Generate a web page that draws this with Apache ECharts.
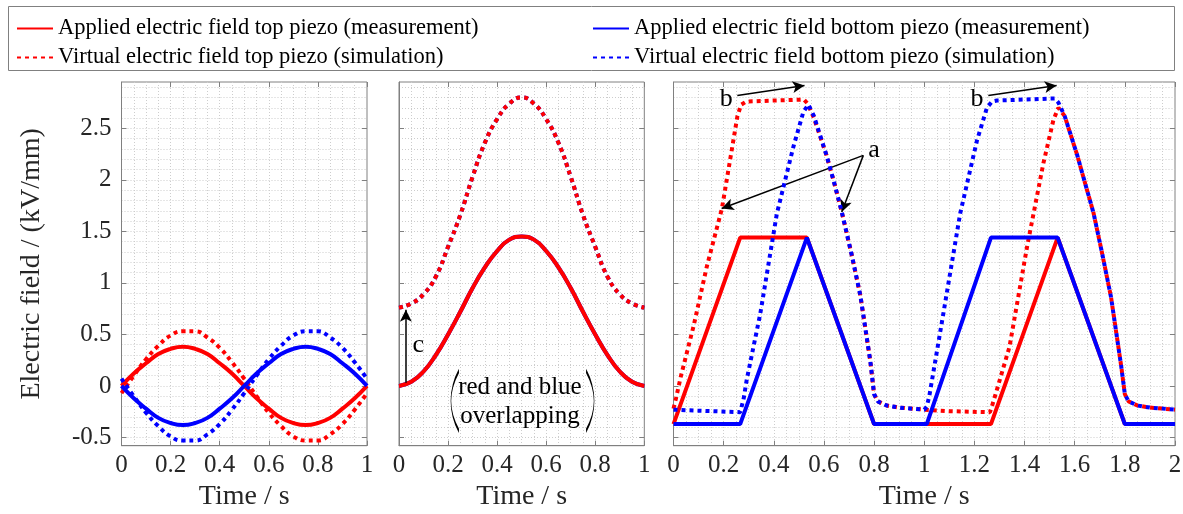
<!DOCTYPE html>
<html lang="en">
<head>
<meta charset="UTF-8">
<title>Electric field</title>
<style>
  html, body { margin: 0; padding: 0; background: #fff; }
  #main { width: 1183px; height: 514px; }
</style>
</head>
<body>
<div id="main"></div>
<script src="https://cdn.jsdelivr.net/npm/echarts@6/dist/echarts.min.js"></script>
<script>
var FONT = 'Liberation Serif';
var RED = '#ff0000', BLUE = '#0000ff', AXIS = '#808080', TXT = '#262626';

var names = [
  'Applied electric field top piezo (measurement)',
  'Virtual electric field top piezo (simulation)',
  'Applied electric field bottom piezo (measurement)',
  'Virtual electric field bottom piezo (simulation)'
];

// tick labels
var xTicks1 = [0, 0.2, 0.4, 0.6, 0.8, 1];
var xTicks3 = [0, 0.2, 0.4, 0.6, 0.8, 1, 1.2, 1.4, 1.6, 1.8, 2];
var yTicks = [-0.5, 0, 0.5, 1, 1.5, 2, 2.5];
var yMin = -0.58, yMax = 2.95;

// panel 1 + 2 share one time base (s)
var t1 = [0, 0.05, 0.1, 0.15, 0.2, 0.25, 0.3, 0.35, 0.4, 0.45, 0.5,
          0.55, 0.6, 0.65, 0.7, 0.75, 0.8, 0.85, 0.9, 0.95, 1];

// panel 1: sine excitation
var p1TopMeas = [0, 0.12, 0.22, 0.31, 0.36, 0.38, 0.36, 0.31, 0.22, 0.12, 0,
                 -0.12, -0.22, -0.31, -0.36, -0.38, -0.36, -0.31, -0.22, -0.12, 0];
var p1TopSim  = [-0.07, 0.1, 0.26, 0.39, 0.49, 0.53, 0.53, 0.47, 0.37, 0.23, 0.07,
                 -0.1, -0.26, -0.39, -0.49, -0.53, -0.53, -0.47, -0.37, -0.23, -0.07];
var p1BotMeas = [0, -0.12, -0.22, -0.31, -0.36, -0.38, -0.36, -0.31, -0.22, -0.12, 0,
                 0.12, 0.22, 0.31, 0.36, 0.38, 0.36, 0.31, 0.22, 0.12, 0];
var p1BotSim  = [0.07, -0.1, -0.26, -0.39, -0.49, -0.53, -0.53, -0.47, -0.37, -0.23, -0.07,
                 0.1, 0.26, 0.39, 0.49, 0.53, 0.53, 0.47, 0.37, 0.23, 0.07];

// panel 2: unipolar (top and bottom identical)
var p2Meas = [0, 0.04, 0.14, 0.3, 0.5, 0.72, 0.95, 1.15, 1.31, 1.42, 1.45,
              1.42, 1.31, 1.15, 0.95, 0.72, 0.5, 0.3, 0.14, 0.04, 0];
var p2Sim  = [0.76, 0.8, 0.89, 1.06, 1.35, 1.66, 2.03, 2.36, 2.59, 2.74, 2.8,
              2.74, 2.59, 2.36, 2.03, 1.66, 1.35, 1.06, 0.89, 0.8, 0.76];

// panel 3: trapezoid sequence, [time, field]
var p3TopMeas = [[0, -0.37], [0.266, 1.44], [0.532, 1.44], [0.8, -0.37], [1.266, -0.37],
                 [1.532, 1.44], [1.8, -0.37], [2, -0.37]];
var p3BotMeas = [[0, -0.37], [0.266, -0.37], [0.532, 1.44], [0.8, -0.37], [1.01, -0.37],
                 [1.266, 1.44], [1.532, 1.44], [1.8, -0.37], [2, -0.37]];
var p3TopSim = [[0, -0.22], [0.01, -0.12], [0.03, 0.1], [0.08, 0.58], [0.133, 1.16], [0.193, 1.72],
                [0.233, 2.3], [0.255, 2.62], [0.27, 2.73], [0.29, 2.76], [0.4, 2.77], [0.52, 2.78],
                [0.535, 2.74], [0.56, 2.6], [0.61, 2.24], [0.64, 1.98], [0.67, 1.7], [0.71, 1.28],
                [0.745, 0.88], [0.785, 0.24], [0.8, -0.08], [0.815, -0.15], [0.85, -0.19], [0.9, -0.21],
                [1, -0.23], [1.1, -0.245], [1.262, -0.255], [1.276, -0.15], [1.34, 0.38], [1.41, 1.35],
                [1.475, 2.16], [1.515, 2.58], [1.535, 2.7], [1.56, 2.62], [1.61, 2.24], [1.64, 1.98],
                [1.675, 1.68], [1.71, 1.28], [1.745, 0.86], [1.785, 0.2], [1.8, -0.08], [1.815, -0.15],
                [1.85, -0.19], [1.9, -0.21], [2, -0.23]];
var p3BotSim = [[0, -0.23], [0.1, -0.24], [0.266, -0.255], [0.28, -0.12], [0.292, 0.06], [0.346, 0.7],
                [0.412, 1.67], [0.478, 2.32], [0.518, 2.66], [0.538, 2.73], [0.56, 2.62], [0.61, 2.24],
                [0.64, 1.98], [0.67, 1.7], [0.71, 1.28], [0.745, 0.88], [0.785, 0.24], [0.8, -0.08],
                [0.815, -0.15], [0.85, -0.19], [0.9, -0.21], [1, -0.23], [1.01, -0.2], [1.02, -0.1],
                [1.076, 0.7], [1.143, 1.67], [1.21, 2.38], [1.25, 2.7], [1.27, 2.76], [1.29, 2.77],
                [1.4, 2.78], [1.52, 2.79], [1.535, 2.75], [1.56, 2.62], [1.61, 2.24], [1.64, 1.98],
                [1.675, 1.68], [1.71, 1.28], [1.745, 0.86], [1.785, 0.2], [1.8, -0.08], [1.815, -0.15],
                [1.85, -0.19], [1.9, -0.21], [2, -0.23]];

function pairs(xs, ys) {
  return xs.map(function (x, i) { return [x, ys[i]]; });
}
// grid line positions (axis decoration only)
function steps(a, b, s) {
  var out = [];
  for (var v = a; v <= b + 1e-9; v += s) out.push(Math.round(v * 1000) / 1000);
  return out;
}

var myChart = echarts.init(document.getElementById('main'));

var grids = [
  {left: 121.5, top: 82, width: 245.5, height: 363.7},
  {left: 399, top: 82, width: 245.3, height: 363.7},
  {left: 673.5, top: 82, width: 501.5, height: 363.7}
];
grids.forEach(function (g) {
  g.show = true; g.borderColor = AXIS; g.borderWidth = 1;
  g.backgroundColor = 'transparent'; g.containLabel = false; g.outerBoundsMode = 'none';
});

var gridLine = {show: true, lineStyle: {color: '#cdcdcd', width: 1, type: [1, 2]}};

function mainX(g, max, ticks) {
  return {
    type: 'value', gridIndex: g, min: 0, max: max, position: 'bottom',
    axisLine: {show: true, onZero: false, lineStyle: {color: AXIS, width: 1}},
    axisTick: {show: true, inside: true, length: 5, customValues: ticks, lineStyle: {color: AXIS}},
    axisLabel: {show: true, customValues: ticks, margin: 7, color: TXT, fontFamily: FONT, fontSize: 25},
    splitLine: {show: false},
    name: 'Time / s', nameLocation: 'middle', nameGap: 36,
    nameTextStyle: {color: TXT, fontFamily: FONT, fontSize: 28}
  };
}
function topX(g, max, ticks) {
  return {
    type: 'value', gridIndex: g, min: 0, max: max, position: 'top',
    axisLine: {show: false, onZero: false},
    axisTick: {show: true, inside: true, length: 5, customValues: ticks, lineStyle: {color: AXIS}},
    axisLabel: {show: false}, splitLine: {show: false}
  };
}
function lineX(g, max) {
  return {
    type: 'value', gridIndex: g, min: 0, max: max,
    axisLine: {show: false}, axisLabel: {show: false},
    axisTick: {show: false, customValues: steps(0.05, max - 0.05, 0.05)},
    splitLine: gridLine
  };
}
function mainY(g) {
  var ax = {
    type: 'value', gridIndex: g, min: yMin, max: yMax, position: 'left',
    axisLine: {show: true, onZero: false, lineStyle: {color: AXIS, width: 1}},
    axisTick: {show: true, inside: true, length: 5, customValues: yTicks, lineStyle: {color: AXIS}},
    axisLabel: {show: g === 0, customValues: yTicks, margin: 10, color: TXT, fontFamily: FONT, fontSize: 25},
    splitLine: {show: false}
  };
  if (g === 0) {
    ax.name = 'Electric field / (kV/mm)';
    ax.nameLocation = 'middle';
    ax.nameRotate = 90;
    ax.nameGap = 76;
    ax.nameTextStyle = {color: TXT, fontFamily: FONT, fontSize: 28};
  }
  return ax;
}
function rightY(g) {
  return {
    type: 'value', gridIndex: g, min: yMin, max: yMax, position: 'right',
    axisLine: {show: false, onZero: false},
    axisTick: {show: true, inside: true, length: 5, customValues: yTicks, lineStyle: {color: AXIS}},
    axisLabel: {show: false}, splitLine: {show: false}
  };
}
function lineY(g) {
  return {
    type: 'value', gridIndex: g, min: yMin, max: yMax,
    axisLine: {show: false}, axisLabel: {show: false},
    axisTick: {show: false, customValues: steps(-0.5, 2.9, 0.1)},
    splitLine: gridLine
  };
}

function line(nameIdx, g, data, dotted, smooth, z) {
  var color = nameIdx < 2 ? RED : BLUE;
  return {
    name: names[nameIdx], type: 'line', xAxisIndex: 3 * g, yAxisIndex: 3 * g,
    data: data, symbol: 'none', showSymbol: false, smooth: smooth, silent: true,
    z: z, itemStyle: {color: color},
    lineStyle: {color: color, width: 4, type: dotted ? [4, 4] : 'solid', cap: 'butt'}
  };
}

var arrowStyle = {
  silent: true, symbol: ['none', 'arrow'], symbolSize: [9, 12], animation: false,
  lineStyle: {color: '#000', width: 1.5, type: 'solid'}, label: {show: false}
};
function note(coord, text, size) {
  return {
    coord: coord, symbol: 'circle', symbolSize: 1, itemStyle: {color: 'rgba(0,0,0,0)'},
    label: {show: true, position: 'inside', formatter: text, color: '#000',
            fontFamily: FONT, fontSize: size || 26, lineHeight: 29}
  };
}
function paren(coord, path) {
  return {
    coord: coord, symbol: path, symbolSize: [8, 60],
    itemStyle: {color: 'rgba(0,0,0,0)', borderColor: '#000', borderWidth: 1.6},
    label: {show: false}
  };
}

var series = [
  line(0, 0, pairs(t1, p1TopMeas), false, true, 2),
  line(1, 0, pairs(t1, p1TopSim), true, true, 3),
  line(2, 0, pairs(t1, p1BotMeas), false, true, 4),
  line(3, 0, pairs(t1, p1BotSim), true, true, 5),

  line(2, 1, pairs(t1, p2Meas), false, true, 2),
  line(3, 1, pairs(t1, p2Sim), true, true, 3),
  line(0, 1, pairs(t1, p2Meas), false, true, 4),
  line(1, 1, pairs(t1, p2Sim), true, true, 5),

  line(0, 2, p3TopMeas, false, false, 2),
  line(1, 2, p3TopSim, true, false, 3),
  line(2, 2, p3BotMeas, false, false, 4),
  line(3, 2, p3BotSim, true, false, 5)
];

// annotations in data coordinates
series[7].markLine = Object.assign({data: [
  [{coord: [0.028, 0.03]}, {coord: [0.028, 0.74]}]
]}, arrowStyle);
series[7].markPoint = {silent: true, animation: false, data: [
  note([0.079, 0.397], 'c'),
  note([0.493, -0.155], 'red and blue\noverlapping', 25),
  paren([0.228, -0.145], 'path://M10,0 Q0,50 10,100'),
  paren([0.779, -0.145], 'path://M0,0 Q10,50 0,100')
]};
series[11].markLine = Object.assign({data: [
  [{coord: [0.2545, 2.82]}, {coord: [0.5225, 2.917]}],
  [{coord: [1.2555, 2.82]}, {coord: [1.528, 2.917]}],
  [{coord: [0.757, 2.238]}, {coord: [0.192, 1.722]}],
  [{coord: [0.757, 2.238]}, {coord: [0.671, 1.689]}]
]}, arrowStyle);
series[11].markPoint = {silent: true, animation: false, data: [
  note([0.2106, 2.788], 'b'),
  note([1.2104, 2.788], 'b'),
  note([0.7996, 2.287], 'a')
]};

var legendBase = {
  orient: 'vertical', top: 17, padding: 0, itemGap: 6, itemWidth: 36, itemHeight: 14,
  itemStyle: {opacity: 0, borderWidth: 0},
  textStyle: {color: '#000', fontFamily: FONT, fontSize: 22.5, lineHeight: 22},
  selectedMode: false
};

var option = {
  animation: false,
  backgroundColor: '#fff',
  grid: grids,
  xAxis: [mainX(0, 1, xTicks1), topX(0, 1, xTicks1), lineX(0, 1),
          mainX(1, 1, xTicks1), topX(1, 1, xTicks1), lineX(1, 1),
          mainX(2, 2, xTicks3), topX(2, 2, xTicks3), lineX(2, 2)],
  yAxis: [mainY(0), rightY(0), lineY(0), mainY(1), rightY(1), lineY(1),
          mainY(2), rightY(2), lineY(2)],
  legend: [
    Object.assign({left: 16, data: [names[0], names[1]]}, legendBase),
    Object.assign({left: 592, data: [names[2], names[3]]}, legendBase)
  ],
  graphic: [{
    type: 'rect', silent: true, z: -1,
    shape: {x: 8.5, y: 6.5, width: 1166, height: 64},
    style: {fill: 'none', stroke: AXIS, lineWidth: 1}
  }],
  series: series
};

myChart.setOption(option);
</script>
</body>
</html>
